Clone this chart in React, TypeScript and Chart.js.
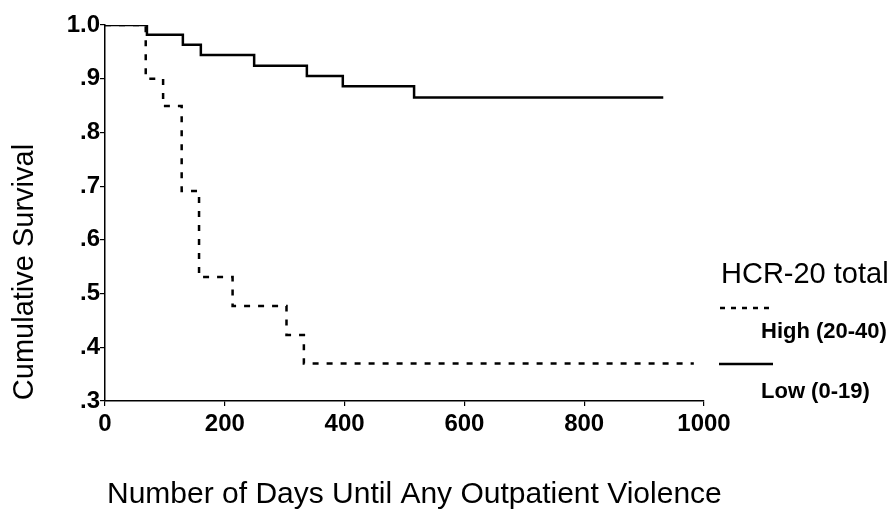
import React, { useEffect, useRef } from "react";
import { Chart, registerables } from "chart.js";

Chart.register(...registerables);

const highDays = [0, 68, 97, 128, 157, 213, 303, 332, 983];
const highSurv = [1.0, 0.9, 0.849, 0.691, 0.531, 0.477, 0.423, 0.37, 0.37];
const lowDays = [0, 70, 130, 160, 249, 337, 397, 516, 932];
const lowSurv = [1.0, 0.982, 0.963, 0.944, 0.924, 0.905, 0.886, 0.865, 0.865];
const xTicks = [0, 200, 400, 600, 800, 1000];
const yTicks = [0.3, 0.4, 0.5, 0.6, 0.7, 0.8, 0.9, 1.0];
const legendTitle = "HCR-20 total";
const seriesNames = ["High (20-40)", "Low (0-19)"];
const xTitle = "Number of Days Until Any Outpatient Violence";
const yTitle = "Cumulative Survival";

const FONT = "'Liberation Sans', Arial, Helvetica, sans-serif";

const fmtY = (v: number) => {
  if (Math.abs(v - 1) < 1e-6) return "1.0";
  return "." + Math.round(v * 10);
};

export default function App() {
  const ref = useRef<HTMLCanvasElement | null>(null);
  useEffect(() => {
    const canvas = ref.current!;
    const textPlugin = {
      id: "texts",
      afterDraw(chart: any) {
        const ctx = chart.ctx;
        ctx.save();
        ctx.fillStyle = "#000";
        ctx.textAlign = "left";
        ctx.textBaseline = "alphabetic";
        ctx.font = `30px ${FONT}`;
        ctx.fillText(xTitle, 107, 503);
        ctx.save();
        ctx.translate(33, 272);
        ctx.rotate(-Math.PI / 2);
        ctx.textAlign = "center";
        ctx.font = `29px ${FONT}`;
        ctx.fillText(yTitle, 0, 0);
        ctx.restore();
        // legend
        ctx.textAlign = "left";
        ctx.font = `29px ${FONT}`;
        ctx.fillText(legendTitle, 721, 283);
        ctx.font = `bold 22px ${FONT}`;
        ctx.fillText(seriesNames[0], 761, 338);
        ctx.fillText(seriesNames[1], 761, 398);
        ctx.strokeStyle = "#000";
        ctx.lineWidth = 2.5;
        ctx.setLineDash([5, 6]);
        ctx.beginPath();
        ctx.moveTo(720, 308);
        ctx.lineTo(773, 308);
        ctx.stroke();
        ctx.setLineDash([]);
        ctx.beginPath();
        ctx.moveTo(719, 364);
        ctx.lineTo(773, 364);
        ctx.stroke();
        ctx.restore();
      },
    };
    const chart = new Chart(canvas, {
      type: "line",
      data: {
        datasets: [
          {
            label: seriesNames[0],
            data: highDays.map((d, i) => ({ x: d, y: highSurv[i] })),
            stepped: "before",
            borderColor: "#000",
            borderWidth: 2.5,
            borderDash: [6, 8],
            pointRadius: 0,
            fill: false,
          },
          {
            label: seriesNames[1],
            data: lowDays.map((d, i) => ({ x: d, y: lowSurv[i] })),
            stepped: "before",
            borderColor: "#000",
            borderWidth: 2.5,
            pointRadius: 0,
            fill: false,
          },
        ],
      },
      options: {
        animation: false,
        responsive: false,
        layout: { padding: { left: 0, top: 25, right: 192, bottom: 0 } },
        plugins: { legend: { display: false }, tooltip: { enabled: false } },
        scales: {
          x: {
            type: "linear",
            min: 0,
            max: 1000,
            afterBuildTicks: (s: any) => {
              s.ticks = xTicks.map((v) => ({ value: v }));
            },
            afterFit: (s: any) => {
              s.height = 108;
            },
            grid: { drawOnChartArea: false, drawTicks: true, tickLength: 5, color: "#000", lineWidth: 1.2 },
            border: { display: true, color: "#000", width: 1.5 },
            ticks: {
              color: "#000",
              font: { family: FONT, size: 24, weight: "bold" },
              padding: 4,
              maxRotation: 0,
              callback: (v: any) => String(v),
            },
          },
          y: {
            type: "linear",
            min: 0.3,
            max: 1.0,
            afterBuildTicks: (s: any) => {
              s.ticks = yTicks.map((v) => ({ value: v }));
            },
            afterFit: (s: any) => {
              s.width = 105;
            },
            grid: { drawOnChartArea: false, drawTicks: true, tickLength: 5, color: "#000", lineWidth: 1.2 },
            border: { display: true, color: "#000", width: 1.5 },
            ticks: {
              color: "#000",
              font: { family: FONT, size: 24, weight: "bold" },
              padding: 0,
              callback: (v: any) => fmtY(Number(v)),
            },
          },
        },
      },
      plugins: [textPlugin],
    } as any);
    return () => chart.destroy();
  }, []);
  return (
    <div style={{ position: "fixed", left: 0, top: 0, width: 896, height: 509, background: "#fff" }}>
      <canvas ref={ref} width={896} height={509} style={{ width: 896, height: 509, display: "block" }} />
    </div>
  );
}
